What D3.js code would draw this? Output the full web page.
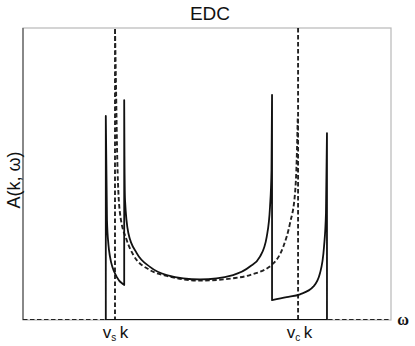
<!DOCTYPE html>
<html>
<head>
<meta charset="utf-8">
<script src="https://cdn.jsdelivr.net/npm/d3@7"></script>
<style>
  body { margin: 0; background: #fff; }
  svg { display: block; }
</style>
</head>
<body>
<svg id="chart" width="415" height="346"></svg>
<script>
// EDC curves, omega in units where v_s k = 1, v_c k = 3
const omegaSolid = [0.9, 0.9, 0.913, 0.929, 0.946, 1.018, 1.09, 1.1, 1.1, 1.103, 1.109, 1.145, 1.236, 1.38, 1.562, 1.924, 2.283, 2.467, 2.576, 2.649, 2.685, 2.701, 2.707, 2.707, 2.866, 3.011, 3.155, 3.228, 3.272, 3.293, 3.304, 3.304];
const aSolid     = [0,   6.99, 3.42, 2.57, 2.16, 1.48, 1.22, 1.2, 7.53, 5.6, 4.11, 2.98, 2.29, 1.82, 1.54, 1.39, 1.54, 1.83, 2.17, 2.85, 3.88, 5.14, 7.71, 0.68, 0.78, 0.88, 1.14, 1.6, 2.51, 3.66, 6.4, 0];

// null = pen up (the curve joins the asymptote at v_c k)
const omegaDashed = [0, 1.0, 1.0, 1.011, 1.025, 1.054, 1.127, 1.199, 1.38, 1.562, 1.924, 2.286, 2.467, 2.721, 2.829, 2.902, 2.957, 2.975, 2.986, 2.99, 2.99, 2.99, 4.0];
const aDashed     = [0, 0,   10,  7.98,  5.48,  3.66,  2.74,  2.23,  1.71, 1.51,  1.35,  1.43,  1.54,  1.94,  2.51,  3.31,  4.35,  5.48,  6.9,   null, 10,   0,    0];

const tickOmega = [1, 3];
const tickSubs = ["s", "c"];

const svg = d3.select('#chart');
const margin = {top: 28, left: 23, right: 24, bottom: 26};
const width = 415, height = 346;

const x = d3.scaleLinear().domain([0, 4]).range([margin.left, width - margin.right]);
const y = d3.scaleLinear().domain([0, 10]).range([height - margin.bottom, margin.top]);

// split a curve into runs of increasing omega, the jumps become vertical lines
function branchPath(xs, ys) {
  const runs = [];
  let run = [], penUp = false;
  xs.forEach((v, i) => {
    if (ys[i] === null) {
      if (run.length) runs.push({pts: run, move: penUp});
      run = []; penUp = true;
      return;
    }
    if (run.length && v <= run[run.length - 1][0]) {
      runs.push({pts: run, move: penUp});
      run = []; penUp = false;
    }
    run.push([v, ys[i]]);
  });
  runs.push({pts: run, move: penUp});
  const smooth = d3.line().x(d => x(d[0])).y(d => y(d[1])).curve(d3.curveMonotoneX);
  return runs.map((r, i) => {
    const s = smooth(r.pts);
    return (i === 0 || r.move) ? s : s.replace(/^M/, 'L');
  }).join('');
}

// clip so the divergent dashed curve stops at the frame
svg.append('clipPath').attr('id', 'plotclip')
  .append('rect')
  .attr('x', margin.left).attr('y', margin.top)
  .attr('width', x(4) - x(0)).attr('height', y(0) - y(10));

// frame
svg.append('rect')
  .attr('x', x(0)).attr('y', y(10))
  .attr('width', x(4) - x(0)).attr('height', y(0) - y(10))
  .attr('fill', 'none').attr('stroke', '#b8b8b8').attr('stroke-width', 1.2);
svg.append('line')
  .attr('x1', x(0)).attr('x2', x(0)).attr('y1', y(10)).attr('y2', y(0))
  .attr('stroke', '#555').attr('stroke-width', 1.2);

const plot = svg.append('g').attr('clip-path', 'url(#plotclip)');

plot.append('path')
  .attr('d', branchPath(omegaDashed, aDashed))
  .attr('fill', 'none').attr('stroke', '#222')
  .attr('stroke-width', 1.9).attr('stroke-dasharray', '4.5,2.5');

plot.append('path')
  .attr('d', branchPath(omegaSolid, aSolid))
  .attr('fill', 'none').attr('stroke', '#111')
  .attr('stroke-width', 1.8).attr('stroke-linejoin', 'round');

// x axis tick labels v_s k, v_c k
const xAxis = svg.append('g')
  .attr('transform', `translate(0,${y(0)})`)
  .call(d3.axisBottom(x).tickValues(tickOmega).tickSize(0).tickPadding(0).tickFormat(''));
xAxis.select('.domain').remove();
xAxis.selectAll('.tick text').remove();
xAxis.selectAll('.tick').each(function(d, i) {
  const t = d3.select(this).append('text')
    .attr('y', 18).attr('text-anchor', 'middle')
    .attr('font-family', 'Liberation Sans, Arial, sans-serif')
    .attr('font-size', 17).attr('fill', '#111');
  t.append('tspan').text('v');
  t.append('tspan').attr('font-size', 10).attr('dy', 3).text(tickSubs[i]);
  t.append('tspan').attr('dy', -3).text('\u2009k');
});

// title
svg.append('text')
  .attr('x', 210).attr('y', 20).attr('text-anchor', 'middle')
  .attr('font-family', 'Liberation Sans, Arial, sans-serif')
  .attr('font-size', 19).attr('fill', '#111')
  .text('EDC');

// y label
svg.append('text')
  .attr('transform', 'translate(20,180) rotate(-90)')
  .attr('text-anchor', 'middle')
  .attr('font-family', 'Liberation Sans, Arial, sans-serif')
  .attr('font-size', 18).attr('fill', '#111')
  .text('A(k, \u03c9)');

// x label
svg.append('text')
  .attr('x', 403).attr('y', 325).attr('text-anchor', 'middle')
  .attr('font-family', 'Liberation Serif, Times New Roman, serif')
  .attr('font-weight', 'bold')
  .attr('font-size', 16).attr('fill', '#111')
  .text('\u03c9');
</script>
</body>
</html>
